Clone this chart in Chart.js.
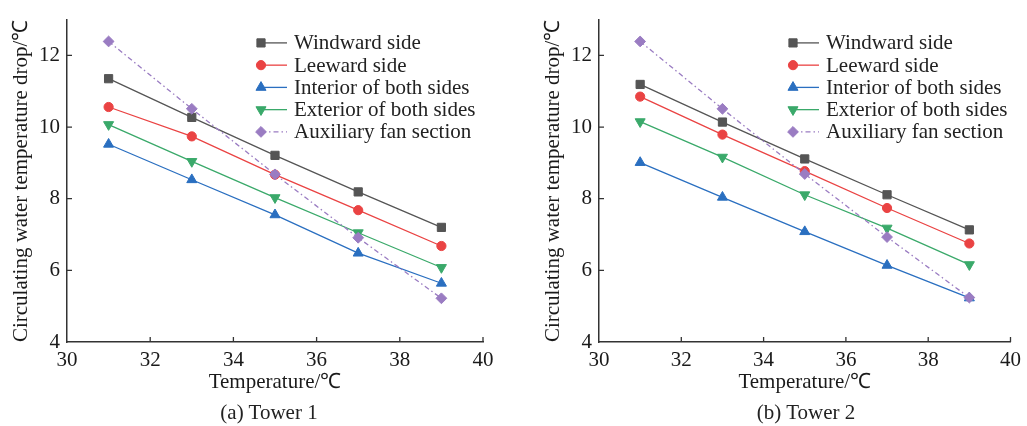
<!DOCTYPE html>
<html><head><meta charset="utf-8">
<script src="https://cdn.jsdelivr.net/npm/chart.js@4.4.1/dist/chart.umd.min.js"></script>
<style>
body{margin:0;background:#fff;width:1027px;height:426px;overflow:hidden;position:relative;font-family:"Liberation Serif","Times New Roman",serif;}
.box{position:absolute;top:0;height:426px;}
#b1{left:0;width:532px}
#b2{left:532px;width:495px}
.cap{position:absolute;font-size:21px;color:#222;top:400px;transform:translateX(-50%);white-space:nowrap;line-height:25px}
</style></head>
<body>
<div class="box" id="b1"><canvas id="c1" width="532" height="426"></canvas></div>
<div class="box" id="b2"><canvas id="c2" width="495" height="426"></canvas></div>
<div class="cap" style="left:269px">(a) Tower 1</div>
<div class="cap" style="left:806px">(b) Tower 2</div>
<script>
const temps = [31, 33, 35, 37, 39];
const xTickValues = [30, 32, 34, 36, 38, 40];
const yTickValues = [4, 6, 8, 10, 12];
const seriesNames = ["Windward side", "Leeward side", "Interior of both sides", "Exterior of both sides", "Auxiliary fan section"];

const windward1 = [11.35, 10.27, 9.21, 8.19, 7.20];
const leeward1 = [10.56, 9.74, 8.67, 7.68, 6.68];
const interior1 = [9.52, 8.53, 7.55, 6.48, 5.64];
const exterior1 = [10.07, 9.04, 8.03, 7.05, 6.08];
const auxiliary1 = [12.39, 10.51, 8.68, 6.91, 5.22];

const windward2 = [11.19, 10.14, 9.11, 8.11, 7.13];
const leeward2 = [10.85, 9.79, 8.77, 7.74, 6.75];
const interior2 = [9.01, 8.04, 7.08, 6.14, 5.23];
const exterior2 = [10.15, 9.16, 8.11, 7.18, 6.16];
const auxiliary2 = [12.39, 10.51, 8.69, 6.93, 5.24];

const FONT = "'Liberation Serif','Times New Roman',serif";
const styles = [
  {color:'#555555', point:'rect', radius:5.8, rot:0, dash:[], order:1},
  {color:'#ea4343', point:'circle', radius:4.6, rot:0, dash:[], order:1},
  {color:'#2a6fc0', point:'triangle', radius:5.8, rot:0, dash:[], order:1},
  {color:'#3aa96a', point:'triangle', radius:5.8, rot:180, dash:[], order:1},
  {color:'#9a7cc2', point:'rectRot', radius:5.4, rot:0, dash:[5,3,1.5,3], order:0}
];

function makeDatasets(arrs){
  return arrs.map((vals, i) => ({
    label: seriesNames[i],
    data: temps.map((t, k) => ({x: t, y: vals[k]})),
    borderColor: styles[i].color,
    backgroundColor: styles[i].color,
    pointBackgroundColor: styles[i].color,
    pointBorderColor: styles[i].color,
    pointStyle: styles[i].point,
    pointRadius: styles[i].radius,
    pointRotation: styles[i].rot,
    pointBorderWidth: 1,
    borderWidth: 1.3,
    borderDash: styles[i].dash,
    tension: 0,
    order: styles[i].order
  }));
}

const legendPlugin = {
  id: 'inLegend',
  afterDatasetsDraw(chart) {
    const {ctx, chartArea} = chart;
    const mx = chartArea.left + 194, le = chartArea.left + 220, tx = chartArea.left + 227;
    chart.data.datasets.forEach((ds, i) => {
      const y = chartArea.top + 23.3 + i * 22.25;
      ctx.save();
      ctx.strokeStyle = ds.borderColor;
      ctx.lineWidth = ds.borderWidth;
      ctx.setLineDash(ds.borderDash || []);
      ctx.beginPath(); ctx.moveTo(mx, y); ctx.lineTo(le, y); ctx.stroke();
      ctx.setLineDash([]);
      ctx.fillStyle = ds.pointBackgroundColor;
      ctx.strokeStyle = ds.pointBorderColor;
      ctx.lineWidth = 1;
      Chart.helpers.drawPoint(ctx, {pointStyle: ds.pointStyle, radius: ds.pointRadius, rotation: ds.pointRotation, borderWidth: 1}, mx, y);
      ctx.fillStyle = '#222';
      ctx.font = "21px " + FONT;
      ctx.textAlign = 'left';
      ctx.textBaseline = 'middle';
      ctx.fillText(ds.label, tx, y + 1);
      ctx.restore();
    });
  }
};

const tickPlugin = {
  id: 'inTicks',
  afterDraw(chart) {
    const {ctx, chartArea: ca} = chart;
    const xs = chart.scales.x, ys = chart.scales.y;
    ctx.save();
    ctx.strokeStyle = '#333';
    ctx.lineWidth = 1.3;
    ctx.beginPath();
    xs.ticks.forEach(t => {
      const px = xs.getPixelForValue(t.value);
      if (Math.abs(px - ca.left) < 1) return;
      ctx.moveTo(px, ca.bottom); ctx.lineTo(px, ca.bottom - 5);
    });
    ys.ticks.forEach(t => {
      const py = ys.getPixelForValue(t.value);
      if (Math.abs(py - ca.bottom) < 1) return;
      ctx.moveTo(ca.left, py); ctx.lineTo(ca.left + 5, py);
    });
    ctx.stroke();
    ctx.restore();
  }
};

function makeChart(id, arrs, rightPad){
  return new Chart(document.getElementById(id), {
    type: 'line',
    data: { datasets: makeDatasets(arrs) },
    options: {
      responsive: false,
      animation: false,
      layout: { padding: {top: 10, right: rightPad, left: 0, bottom: 31} },
      plugins: { legend: {display: false}, tooltip: {enabled: false}, title: {display: false} },
      scales: {
        x: {
          type: 'linear', min: 30, max: 40,
          afterBuildTicks: s => { s.ticks = xTickValues.map(v => ({value: v})); },
          afterFit: s => { s.height = 53; },
          grid: {display: false, drawTicks: false, tickLength: 0},
          border: {display: true, color: '#333', width: 1.5},
          ticks: {font: {family: FONT, size: 21}, color: '#1a1a1a', padding: 6, maxRotation: 0},
          title: {display: true, text: 'Temperature/℃', font: {family: FONT, size: 21}, color: '#1a1a1a', padding: {top: 0, bottom: 0}}
        },
        y: {
          type: 'linear', min: 4, max: 13,
          afterBuildTicks: s => { s.ticks = yTickValues.map(v => ({value: v})); },
          afterFit: s => { s.width = 67; },
          grid: {display: false, drawTicks: false, tickLength: 0},
          border: {display: true, color: '#333', width: 1.5},
          ticks: {font: {family: FONT, size: 21}, color: '#1a1a1a', padding: 7},
          title: {display: true, text: 'Circulating water temperature drop/℃', font: {family: FONT, size: 21}, color: '#1a1a1a', padding: {top: 9, bottom: 0}}
        }
      }
    },
    plugins: [legendPlugin, tickPlugin]
  });
}

makeChart('c1', [windward1, leeward1, interior1, exterior1, auxiliary1], 49);
makeChart('c2', [windward2, leeward2, interior2, exterior2, auxiliary2], 12);
</script>
</body></html>
